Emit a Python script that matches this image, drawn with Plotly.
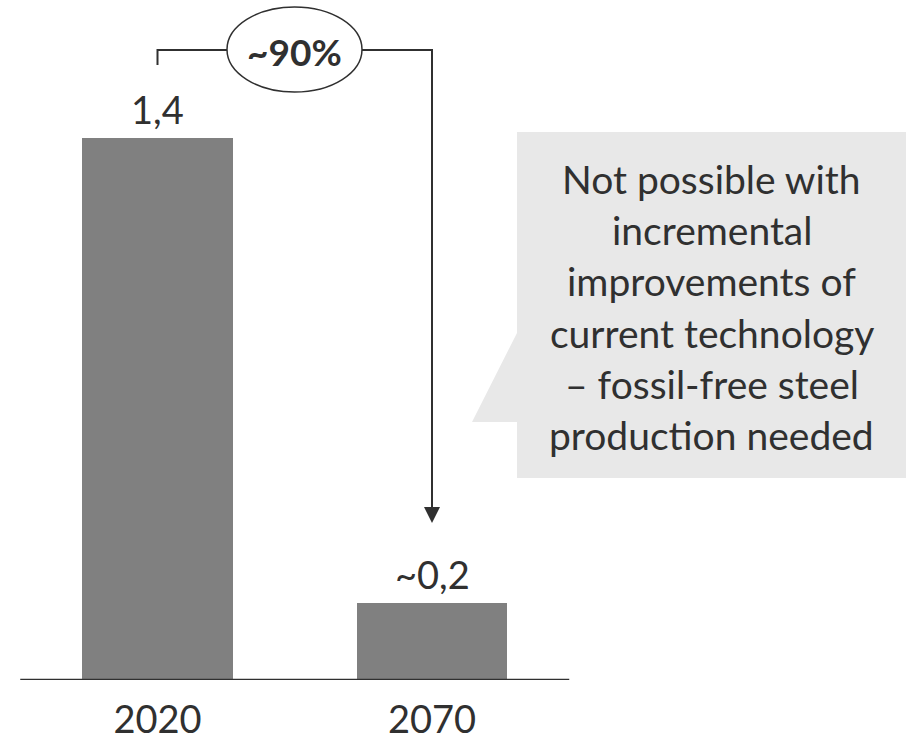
import plotly.graph_objects as go

# Data
years = ["2020", "2070"]
values = [1.4, 0.2]
value_labels = ["1,4", "~0,2"]
reduction_label = "~90%"
callout_lines = [
    "Not possible with",
    "incremental",
    "improvements of",
    "current technology",
    "– fossil-free steel",
    "production needed",
]

# Page geometry (pixels) used to place the decorations
W, H = 909, 741
BASE_PX = 680          # y pixel of the zero line
X0_PX = 157.5          # x pixel of the first bar centre
STEP_PX = 274.5        # pixels between bar centres
UNIT_PX = 387.14       # pixels per unit of value

def dx(px):
    return (px - X0_PX) / STEP_PX

def dy(py):
    return (BASE_PX - py) / UNIT_PX

FONT = "Lato, 'Open Sans', sans-serif"
TXT = "#303030"
xs = list(range(len(years)))

fig = go.Figure()
fig.add_trace(go.Bar(
    x=xs, y=values, width=0.55,
    marker=dict(color="#808080", line=dict(width=0)),
    hoverinfo="skip",
))

shapes = []
# callout box with pointer
callout = (f"M {dx(517)},{dy(132)} L {dx(906)},{dy(132)} L {dx(906)},{dy(478)} "
           f"L {dx(517)},{dy(478)} L {dx(517)},{dy(422)} L {dx(472)},{dy(422)} "
           f"L {dx(517)},{dy(333)} Z")
shapes.append(dict(type="path", path=callout, xref="x", yref="y",
                   fillcolor="#e8e8e8", line=dict(width=0), layer="below"))
# zero line
shapes.append(dict(type="line", xref="x", yref="y", x0=-0.5, x1=1.5, y0=0, y1=0,
                   line=dict(color=TXT, width=2.5)))
# reduction bracket from the first bar to the second
bracket = (f"M {xs[0]},{dy(65)} L {xs[0]},{dy(50)} L {xs[1]},{dy(50)} L {xs[1]},{dy(508)}")
shapes.append(dict(type="path", path=bracket, xref="x", yref="y",
                   line=dict(color=TXT, width=2)))
# arrow head
head = (f"M {xs[1] - 8 / STEP_PX},{dy(507)} L {xs[1] + 8 / STEP_PX},{dy(507)} "
        f"L {xs[1]},{dy(523)} Z")
shapes.append(dict(type="path", path=head, xref="x", yref="y",
                   fillcolor=TXT, line=dict(width=0)))
# ellipse around the percentage
shapes.append(dict(type="circle", xref="x", yref="y",
                   x0=dx(227), x1=dx(362), y0=dy(92), y1=dy(7),
                   fillcolor="white", line=dict(color=TXT, width=1.5)))

annotations = [dict(
    x=dx(294.5), y=dy(51), xref="x", yref="y", text=f"<b>{reduction_label}</b>",
    showarrow=False, xanchor="center", yanchor="middle",
    font=dict(family=FONT, size=37, color=TXT),
)]
# value labels above the bars
for x, v, lab in zip(xs, values, value_labels):
    annotations.append(dict(
        x=x, y=v, xref="x", yref="y", text=lab, showarrow=False,
        xanchor="center", yanchor="bottom", yshift=4,
        font=dict(family=FONT, size=38, color=TXT),
    ))
for i, line in enumerate(callout_lines):
    baseline = 192 + i * 51.2
    annotations.append(dict(
        x=dx(711.5), y=dy(baseline - 13), xref="x", yref="y", text=line,
        showarrow=False, xanchor="center", yanchor="middle",
        font=dict(family=FONT, size=39, color=TXT),
    ))

fig.update_layout(
    width=W, height=H,
    margin=dict(l=0, r=0, t=0, b=H - BASE_PX, autoexpand=False),
    plot_bgcolor="white", paper_bgcolor="white",
    showlegend=False, bargap=0,
    shapes=shapes, annotations=annotations,
    xaxis=dict(range=[dx(0), dx(W)], tickvals=xs, ticktext=years,
               showgrid=False, zeroline=False, showline=False, ticks="",
               ticklabelstandoff=14, automargin=False,
               tickfont=dict(family=FONT, size=38, color=TXT)),
    yaxis=dict(range=[0, dy(0)], visible=False, showgrid=False, zeroline=False,
               automargin=False),
    hovermode=False,
)

fig.write_html("out.html", config={"displayModeBar": False})
